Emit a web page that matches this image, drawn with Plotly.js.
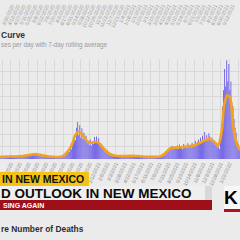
<!DOCTYPE html>
<html>
<head>
<meta charset="utf-8">
<script src="https://cdn.plot.ly/plotly-3.0.1.min.js"></script>
<style>html,body{margin:0;padding:0;background:#ebebeb;}#chart{width:240px;height:240px;}</style>
</head>
<body>
<div id="chart"></div>
<script>
// ---- data ----
const barStart = '2020-04-06';
const barStepDays = 3;
const dailyCases = [
  150,210,170,240,160,200,230,170,190,250,
  180,260,200,150,240,210,190,270,230,260,
  280,240,320,300,360,290,380,330,420,360,
  410,470,380,450,400,430,350,380,310,340,
  290,250,270,220,240,190,210,170,200,160,
  180,140,170,150,190,160,210,180,230,260,
  260,320,300,480,430,620,560,900,780,1150,
  1300,1750,1500,2500,2950,1900,2700,1700,2450,1600,
  2100,1500,1850,1250,1450,1100,1550,1050,1400,1200,
  1750,1300,1800,1250,1650,1050,1250,900,1000,750,
  850,600,700,480,550,400,450,330,380,300,
  320,250,290,220,260,200,240,190,230,210,
  250,280,230,300,260,240,290,220,270,230,250,200,240,190,220,170,200,160,190,150,
  170,140,190,130,160,150,180,140,170,200,190,240,220,280,300,
  380,450,420,600,560,740,680,900,820,1050,800,950,1000,850,1100,
  800,1150,950,1000,780,1200,900,1050,850,1250,950,1100,900,1300,1000,
  1200,1450,1100,1350,1550,1250,1700,1300,1850,1450,2150,1500,1900,1600,2050,
  1800,1450,1700,1300,1500,1100,1300,900,1150,800,
  1900,2800,4200,5500,7200,5800,7900,6200,7600,5500,
  6200,4500,4200,3200,2500,2100,1400,1200,800
];
const avgDates = ['2020-04-06','2020-05-04','2020-06-02','2020-07-01','2020-07-15','2020-07-29','2020-08-27','2020-09-25','2020-10-03','2020-10-12','2020-10-23','2020-11-01','2020-11-06','2020-11-15','2020-11-24','2020-12-05','2020-12-14','2020-12-25','2021-01-08','2021-01-20','2021-01-31','2021-02-14','2021-03-01','2021-03-15','2021-04-13','2021-05-11','2021-06-09','2021-07-07','2021-07-22','2021-08-05','2021-08-25','2021-09-17','2021-10-15','2021-10-30','2021-11-13','2021-11-27','2021-12-12','2021-12-20','2021-12-26','2022-01-01','2022-01-06','2022-01-15','2022-01-24','2022-02-01','2022-02-10','2022-02-21'];
const avgCases = [170,200,220,320,400,330,190,180,230,450,850,1400,1850,2150,2050,1650,1350,1300,1380,1100,700,400,260,230,260,220,170,200,450,850,920,980,1100,1300,1500,1600,1300,1050,1500,2500,4200,5100,4900,2700,1400,700];
const xRange = ['2020-04-06','2022-02-21'];
const topRange = ['2020-03-01','2021-10-01'];
const chartTitle = 'Curve';
const chartSubtitle = 'ses per day with 7-day rolling average';
const bannerTop = 'IN NEW MEXICO';
const bannerMain = 'D OUTLOOK IN NEW MEXICO';
const bannerSub = 'SING AGAIN';
const logoText = 'K';
const nextTitle = 're Number of Deaths';

// ---- build ----
const barDates = dailyCases.map((_, i) => {
  const d = new Date(barStart + 'T00:00:00Z');
  d.setUTCDate(d.getUTCDate() + i * barStepDays);
  return d.toISOString().slice(0, 10);
});
const DAY = 86400000;
const H = 240;
const py = p => 1 - p / H;
const px = p => p / 240;

const traces = [
  {type:'bar', x: barDates, y: dailyCases, marker:{color:'#6c5ce7', line:{width:0}}, hoverinfo:'none'},
  {type:'scatter', mode:'lines', x: avgDates, y: avgCases, line:{color:'#f2a31b', width:2.6, shape:'spline', smoothing:0.5}, hoverinfo:'none'},
  {type:'scatter', mode:'lines', x: [], y: [], xaxis:'x2', yaxis:'y2', hoverinfo:'none'}
];

const font = 'Liberation Sans, Arial, sans-serif';
const layout = {
  width: 240, height: 240,
  margin:{l:0, r:0, t:0, b:0, pad:0},
  paper_bgcolor:'#ebebeb', plot_bgcolor:'#ebebeb',
  showlegend:false, bargap:0.15,
  font:{family:font},
  xaxis:{type:'date', range:xRange, domain:[0,1], anchor:'y', dtick:25*DAY, tick0:'2020-04-12',
         tickformat:'%-m/%-d/%Y', tickangle:-65, tickfont:{size:5, color:'#8a8a8a'},
         showgrid:true, gridcolor:'#d9d9d9', gridwidth:1, zeroline:false, showline:false, ticks:''},
  yaxis:{range:[0,8000], domain:[py(159), py(59)], dtick:1000, showticklabels:false,
         showgrid:true, gridcolor:'#d9d9d9', gridwidth:1, zeroline:false, ticks:''},
  xaxis2:{type:'date', range:topRange, anchor:'y2', dtick:14*DAY, tick0:'2020-03-02',
          tickformat:'%-m/%-d/%Y', tickangle:-65, tickfont:{size:5, color:'#9a9a9a'},
          showgrid:false, zeroline:false, showline:false, ticks:''},
  yaxis2:{domain:[0.996,1], range:[0,1], showticklabels:false, showgrid:false, zeroline:false},
  shapes:[
    {type:'rect', xref:'paper', yref:'paper', x0:0, x1:px(89), y0:py(186), y1:py(172), fillcolor:'#f4c315', line:{width:0}, layer:'above'},
    {type:'rect', xref:'paper', yref:'paper', x0:0, x1:px(212), y0:py(200), y1:py(186), fillcolor:'#efefef', line:{width:0}, layer:'above'},
    {type:'rect', xref:'paper', yref:'paper', x0:px(205), x1:px(212), y0:py(200), y1:py(186), fillcolor:'#d8d8d8', line:{width:0}, layer:'above'},
    {type:'rect', xref:'paper', yref:'paper', x0:0, x1:px(212), y0:py(210), y1:py(200), fillcolor:'#9e0f1a', line:{width:0}, layer:'above'},
    {type:'rect', xref:'paper', yref:'paper', x0:px(224), x1:1, y0:py(210), y1:py(186), fillcolor:'#f7f7f7', line:{width:0}, layer:'above'},
    {type:'rect', xref:'paper', yref:'paper', x0:px(224), x1:1, y0:py(212), y1:py(209), fillcolor:'#b0101c', line:{width:0}, layer:'above'}
  ],
  annotations:[
    {text:'<b>'+chartTitle+'</b>', xref:'paper', yref:'paper', x:0, y:py(35), xanchor:'left', yanchor:'middle', showarrow:false, borderpad:0, font:{size:8.5, color:'#333333'}},
    {text:chartSubtitle, xref:'paper', yref:'paper', x:0, y:py(45), xanchor:'left', yanchor:'middle', showarrow:false, borderpad:0, font:{size:6.3, color:'#9a9a9a'}},
    {text:'<b>'+bannerTop+'</b>', xref:'paper', yref:'paper', x:px(1), y:py(179), xanchor:'left', yanchor:'middle', showarrow:false, borderpad:0, font:{size:10.5, color:'#111111'}},
    {text:'<b>'+bannerMain+'</b>', xref:'paper', yref:'paper', x:0, y:py(193), xanchor:'left', yanchor:'middle', showarrow:false, borderpad:0, font:{size:13.5, color:'#0a0a0a'}},
    {text:'<b>'+bannerSub+'</b>', xref:'paper', yref:'paper', x:px(2), y:py(205), xanchor:'left', yanchor:'middle', showarrow:false, borderpad:0, font:{size:7, color:'#ffffff'}},
    {text:'<b>'+logoText+'</b>', xref:'paper', yref:'paper', x:px(239), y:py(197.5), xanchor:'right', yanchor:'middle', showarrow:false, borderpad:0, font:{size:19, color:'#000000'}},
    {text:'<b>'+nextTitle+'</b>', xref:'paper', yref:'paper', x:0, y:py(229), xanchor:'left', yanchor:'middle', showarrow:false, borderpad:0, font:{size:8.4, color:'#2e2e2e'}}
  ]
};

Plotly.newPlot('chart', traces, layout, {staticPlot:true, displayModeBar:false});
</script>
</body>
</html>
